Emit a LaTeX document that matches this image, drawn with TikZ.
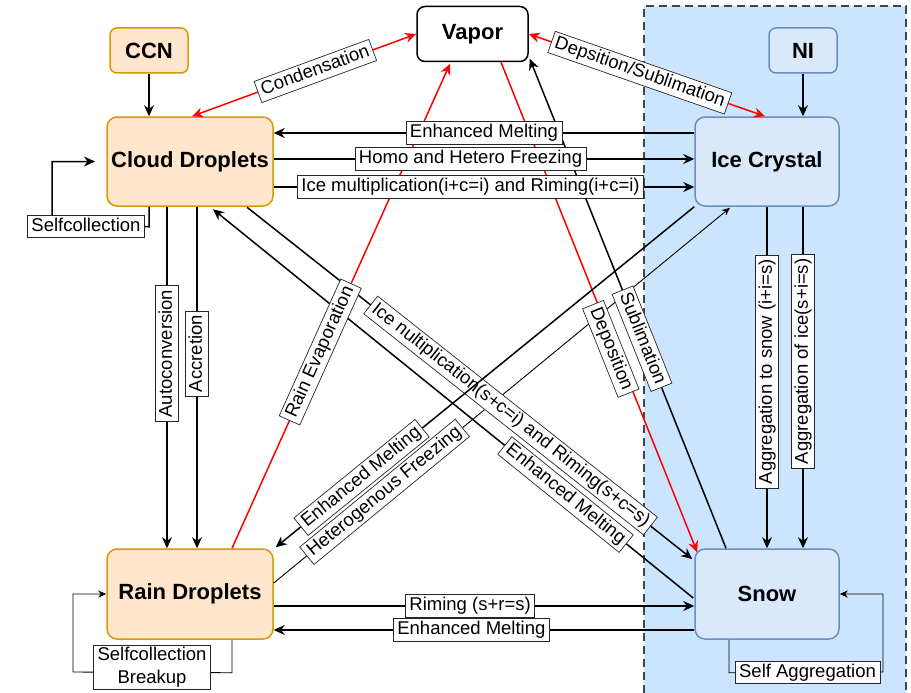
\documentclass[tikz,border=0pt]{standalone}
\usepackage{fontspec}
\setmainfont{Liberation Sans}
\usetikzlibrary{arrows.meta,calc}
\definecolor{peachfill}{HTML}{FFE6CC}
\definecolor{peachdraw}{HTML}{D79B00}
\definecolor{bluefill}{HTML}{DAE8FC}
\definecolor{bluedraw}{HTML}{6C8EBF}
\definecolor{areafill}{HTML}{CCE5FF}
\definecolor{areadraw}{HTML}{444444}
\definecolor{vred}{HTML}{FF0000}
\begin{document}
\begin{tikzpicture}[x=1pt,y=-1pt,
  >={Stealth[length=11pt,width=10pt,inset=3.5pt]},
  nodebox/.style={rounded corners=10pt, line width=1.5pt, inner sep=0pt, font=\fontsize{22}{26}\selectfont\bfseries},
  warmbox/.style={nodebox, fill=peachfill, draw=peachdraw},
  coolbox/.style={nodebox, fill=bluefill, draw=bluedraw},
  vapbox/.style={nodebox, fill=white, draw=black},
  conn/.style={line width=1.5pt, ->},
  redconn/.style={line width=1.5pt, ->, color=vred},
  thinconn/.style={line width=0.9pt, -{Stealth[length=8pt,width=7pt,inset=2.5pt]}},
  lblbase/.style={draw=black!85, line width=0.7pt, fill=white, text=black, font=\fontsize{18.5}{22.5}\selectfont, inner xsep=4pt, inner ysep=2.5pt},
  lbl/.style={lblbase, text height=13.5pt, text depth=4pt}]
\useasboundingbox (0,0) rectangle (911,693);
% ice-phase area
\fill[areafill] (644,6) rectangle (906,693);
\draw[areadraw, line width=2.6pt, dash pattern=on 8pt off 5pt] (644,693) -- (644,6) -- (906,6) -- (906,693);
% nodes
\node[vapbox, rounded corners=8pt, minimum width=111pt, minimum height=55pt] (vapor) at (472.5,34) {Vapor};
\node[warmbox, rounded corners=7pt, minimum width=78pt, minimum height=45pt] (ccn) at (149,50.5) {CCN};
\node[coolbox, rounded corners=7pt, minimum width=68pt, minimum height=45pt] (ni) at (803,50.5) {NI};
\node[warmbox, minimum width=166pt, minimum height=89pt] (cloud) at (190,161.5) {Cloud Droplets};
\node[coolbox, minimum width=144pt, minimum height=89pt] (ice) at (767,161.5) {Ice Crystal};
\node[warmbox, minimum width=166pt, minimum height=90pt] (rain) at (190,594) {Rain Droplets};
\node[coolbox, minimum width=144pt, minimum height=90pt] (snow) at (767,594) {Snow};
% end points
\coordinate (c1a) at ($(cloud.north)+(2,0)$);
\coordinate (c2b) at ($(ice.north)+(-2,0)$);
\coordinate (e1a) at ($(ice.west)+(0,-28.5)$);
\coordinate (e1b) at ($(cloud.east)+(0,-28.5)$);
\coordinate (e2a) at ($(cloud.east)+(0,-2.5)$);
\coordinate (e2b) at ($(ice.west)+(0,-2.5)$);
\coordinate (e3a) at ($(cloud.east)+(0,25.5)$);
\coordinate (e3b) at ($(ice.west)+(0,25.5)$);
\coordinate (e4a) at ($(cloud.south)+(-23,0)$);
\coordinate (e4b) at ($(rain.north)+(-23,0)$);
\coordinate (e5a) at ($(cloud.south)+(7,0)$);
\coordinate (e5b) at ($(rain.north)+(7,0)$);
\coordinate (e6a) at ($(rain.north)+(42,0)$);
\coordinate (e6b) at ($(vapor.south)+(-22.5,1.5)$);
\coordinate (e7a) at ($(vapor.south)+(28.5,0)$);
\coordinate (e7b) at ($(snow.north west)+(3,4)$);
\coordinate (e8a) at ($(snow.north)+(-41,0)$);
\coordinate (e8b) at ($(vapor.south east)+(1,-3.5)$);
\coordinate (e9a) at ($(cloud.south)+(57,0.5)$);
\coordinate (e9b) at ($(snow.west)+(-2,-35)$);
\coordinate (e10a) at ($(snow.west)+(-1,4)$);
\coordinate (e10b) at ($(cloud.south)+(23,2.5)$);
\coordinate (e11a) at (ice.south west);
\coordinate (e11b) at ($(rain.north east)+(2,-1)$);
\coordinate (e12a) at ($(rain.east)+(0,-11)$);
\coordinate (e12b) at ($(ice.south)+(-37,1)$);
\coordinate (e14a) at ($(ice.south)+(36,0)$);
\coordinate (e14b) at ($(snow.north)+(36,0)$);
\coordinate (e15a) at ($(rain.east)+(0,12)$);
\coordinate (e15b) at ($(snow.west)+(0,12)$);
\coordinate (e16a) at ($(snow.west)+(0,36)$);
\coordinate (e16b) at ($(rain.east)+(0,36)$);
\coordinate (cloudin) at (95,161.5);
% connectors (lines only)
\draw[conn] (ccn.south) -- (ccn.south |- cloud.north);
\draw[conn] (ni.south) -- (ni.south |- ice.north);
\draw[redconn,<->] (c1a) -- (vapor.west);
\draw[redconn,<->] (vapor.east) -- (c2b);
\draw[thinconn] (e12a) -- (e12b);
\draw[conn] (e1a) -- (e1b);
\draw[conn] (e2a) -- (e2b);
\draw[conn] (e3a) -- (e3b);
\draw[conn] (e4a) -- (e4b);
\draw[conn] (e5a) -- (e5b);
\draw[redconn] (e6a) -- (e6b);
\draw[redconn] (e7a) -- (e7b);
\draw[conn] (e8a) -- (e8b);
\draw[conn] (e9a) -- (e9b);
\draw[conn] (e10a) -- (e10b);
\draw[conn] (ice.south) -- (snow.north);
\draw[conn] (e14a) -- (e14b);
\draw[conn] (e15a) -- (e15b);
\draw[conn] (e16a) -- (e16b);
% self loops
\draw[conn] ($(cloud.south)+(-41,0)$) -- ++(0,20) -- node[lbl,pos=0.65] (lself) {Selfcollection} (52,226) -- (52,161.5) -- (cloudin);
\draw[thinconn] ($(rain.south)+(42,0)$) -- ++(0,33) -- node[lblbase,pos=0.503,yshift=5pt,align=center] (lbreak) {Selfcollection\\Breakup} (73,672) -- (73,594) -- (rain.west);
\draw[thinconn] ($(snow.south)+(-38,0)$) -- ++(0,33) -- node[lbl,pos=0.51] (lsagg) {Self Aggregation} (883,672) -- (883,594) -- (snow.east);
% labels
\path (c1a) -- node[lbl,sloped,pos=0.55] (lcond) {Condensation} (vapor.west);
\path (vapor.east) -- node[lbl,sloped,pos=0.47] (ldep) {Depsition/Sublimation} (c2b);
\path (e1a) -- node[lbl,pos=0.5] (l1) {Enhanced Melting} (e1b);
\path (e2a) -- node[lbl,pos=0.468] (l2) {Homo and Hetero Freezing} (e2b);
\path (e3a) -- node[lbl,pos=0.468] (l3) {Ice multiplication(i+c=i) and Riming(i+c=i)} (e3b);
\path (e4a) -- node[lbl,rotate=90,pos=0.43] (l4) {Autoconversion} (e4b);
\path (e5a) -- node[lbl,rotate=90,pos=0.43] (l5) {Accretion} (e5b);
\path (e6a) -- node[lbl,sloped,pos=0.405] (l6) {Rain Evaporation} (e6b);
\path ($(e7a)+(-5,0)$) -- node[lbl,sloped,pos=0.585] (l7) {Deposition} ($(e7b)+(-5,0)$);
\path (e8a) -- node[lbl,sloped,pos=0.428] (l8) {Sublimation} (e8b);
\path (e9a) -- node[lbl,sloped,pos=0.592] (l9) {Ice nultiplication(s+c=i) and Riming(s+c=s)} (e9b);
\path (e10a) -- node[lbl,sloped,pos=0.266] (l10) {Enhanced Melting} (e10b);
\path (e12a) -- node[lbl,sloped,pos=0.243] (l12) {Heterogenous Freezing} (e12b);
\path (ice.south) -- node[lbl,rotate=90,pos=0.483] (l13) {Aggregation to snow (i+i=s)} (snow.north);
\path (e14a) -- node[lbl,rotate=90,pos=0.453] (l14) {Aggregation of ice(s+i=s)} (e14b);
\path (e15a) -- node[lbl,pos=0.467] (l15) {Riming (s+r=s)} (e15b);
\path (e16a) -- node[lbl,pos=0.53] (l16) {Enhanced Melting} (e16b);
% melting ice -> rain lies above the crossing label
\draw[conn] (e11a) -- node[lbl,sloped,pos=0.795] (l11) {Enhanced Melting} (e11b);
\end{tikzpicture}
\end{document}
